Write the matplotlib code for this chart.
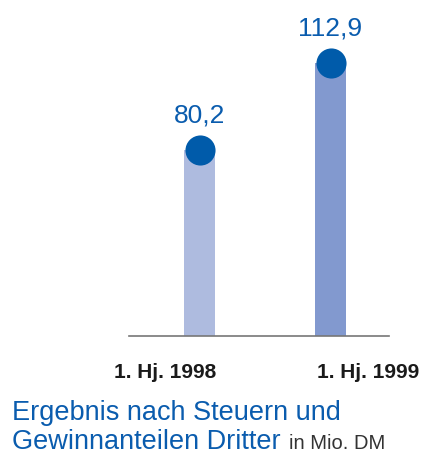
import matplotlib
matplotlib.use('Agg')
import matplotlib.pyplot as plt

plt.rcParams['font.family'] = ['Liberation Sans', 'DejaVu Sans']

categories = ['1. Hj. 1998', '1. Hj. 1999']
values = [80.2, 112.9]
value_labels = ['80,2', '112,9']
bar_colors = ['#aebbdf', '#8299cf']
dot_color = '#005baa'
text_blue = '#0a5cae'

W, H = 424, 455
fig = plt.figure(figsize=(W / 100, H / 100), dpi=100)
base_px = 336
ax = fig.add_axes([129 / W, (H - base_px) / H, 260 / W, base_px / H])

x = [0, 1]
ax.bar(x, values, width=0.237, bottom=0, color=bar_colors, zorder=1)
ax.scatter(x, values, s=470, color=dot_color, zorder=3, linewidths=0)
for xi, v, lab in zip(x, values, value_labels):
    ax.annotate(lab, (xi, v), xytext=(0, 19.5), textcoords='offset points',
                ha='center', va='baseline', fontsize=19, color=text_blue)

ax.set_xlim(-0.538, 1.446)
ax.set_ylim(10.3, 136.6)
for s in ['top', 'right', 'left']:
    ax.spines[s].set_visible(False)
ax.spines['bottom'].set_color('#777777')
ax.spines['bottom'].set_linewidth(1.2)
ax.set_xticks([])
ax.set_yticks([])
ax.patch.set_alpha(0)

# category labels
fig.text(165 / W, 1 - 373 / H, categories[0], ha='center', va='center',
         fontsize=15, fontweight='bold', color='#1a1a1a')
fig.text(368 / W, 1 - 373 / H, categories[1], ha='center', va='center',
         fontsize=15, fontweight='bold', color='#1a1a1a')

# title
fig.text(12 / W, 1 - 420 / H, 'Ergebnis nach Steuern und', ha='left', va='baseline',
         fontsize=19.5, color=text_blue)
t2 = fig.text(12 / W, 1 - 449 / H, 'Gewinnanteilen Dritter', ha='left', va='baseline',
              fontsize=19.5, color=text_blue)
fig.canvas.draw()
bb = t2.get_window_extent()
fig.text((bb.x1 + 8) / W, 1 - 449 / H, 'in Mio. DM', ha='left', va='baseline',
         fontsize=14.5, color='#333333')

fig.savefig('out.png', dpi=100)
